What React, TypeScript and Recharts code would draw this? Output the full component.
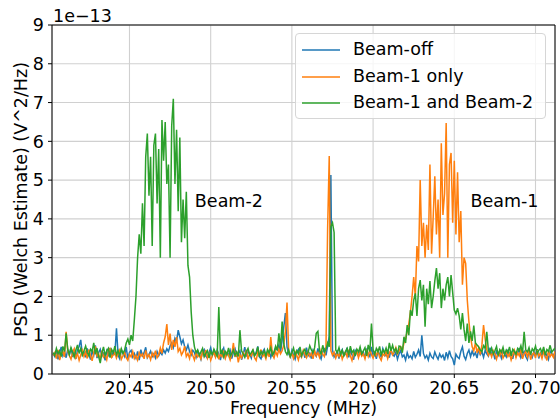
import { LineChart, Line, XAxis, YAxis, CartesianGrid, ReferenceLine, ReferenceDot } from 'recharts';

// frequency grid of the Welch estimate (MHz)
const FREQ_START = 20.403;
const FREQ_STEP = 0.001;
const X_MIN = 20.4023;
const X_MAX = 20.712;

const xTicks = [20.45, 20.5, 20.55, 20.6, 20.65, 20.7];
const yTicks = [0, 1, 2, 3, 4, 5, 6, 7, 8, 9];

const seriesNames = ['Beam-off', 'Beam-1 only', 'Beam-1 and Beam-2'];
const seriesColors = ['#1f77b4', '#ff7f0e', '#2ca02c'];

// PSD in units of 1e-15 V^2/Hz (axis shows 1e-13, so divide by 100)
const beamOff = [
  52, 45, 61, 38, 55, 70, 47, 58, 42, 63,
  50, 68, 44, 57, 39, 62, 71, 88, 49, 56,
  43, 66, 52, 37, 59, 48, 74, 41, 55, 64,
  46, 53, 35, 60, 49, 67, 42, 57, 51, 118,
  48, 39, 62, 54, 45, 70, 38, 56, 61, 44,
  53, 41, 58, 36, 63, 47, 55, 69, 42, 50,
  59, 45, 52, 41, 58, 47, 56, 50, 62, 54,
  65, 58, 72, 80, 68, 92, 84, 113, 96, 78,
  88, 70, 62, 75, 58, 49, 61, 55, 43, 60,
  52, 38, 57, 63, 46, 41, 55, 68, 48, 59,
  44, 62, 51, 36, 58, 67, 43, 54, 49, 61,
  40, 56, 65, 47, 53, 60, 37, 50, 69, 45,
  58, 52, 41, 63, 48, 55, 71, 44, 39, 57,
  64, 46, 52, 60, 43, 58, 50, 67, 62, 75,
  55, 88, 121, 157, 70, 52, 44, 61, 49, 38,
  56, 63, 45, 51, 59, 42, 68, 47, 54, 40,
  61, 53, 46, 66, 50, 39, 57, 64, 48, 72,
  98, 513, 62, 44, 51, 58, 40, 55, 63, 47,
  52, 68, 43, 59, 50, 37, 61, 54, 46, 65,
  49, 57, 41, 62, 53, 45, 70, 48, 56, 39,
  60, 51, 44, 66, 55, 47, 58, 42, 63, 50,
  46, 57, 38, 52, 61, 44, 49, 36, 55, 42,
  47, 39, 58, 43, 51, 62, 45, 100, 53, 41,
  48, 36, 54, 44, 40, 57, 46, 38, 52, 43,
  49, 35, 56, 42, 60, 45, 39, 23, 51, 44,
  40, 58, 70, 46, 37, 53, 62, 45, 59, 48,
  55, 41, 64, 50, 57, 43, 61, 52, 46, 68,
  49, 56, 38, 62, 47, 54, 41, 59, 51, 44,
  63, 48, 55, 39, 60, 46, 53, 67, 42, 50,
  58, 45, 37, 61, 52, 43, 57, 49, 64, 40,
  55, 47, 62, 44, 51, 38, 59, 53, 46, 57,
];

const beam1Only = [
  48, 55, 40, 62, 36, 51, 58, 44, 109, 60,
  47, 38, 56, 65, 42, 53, 35, 49, 61, 45,
  57, 40, 63, 48, 34, 55, 71, 46, 52, 39,
  60, 44, 50, 37, 58, 65, 43, 49, 55, 41,
  53, 62, 38, 47, 56, 42, 35, 51, 44, 58,
  40, 48, 36, 55, 46, 52, 39, 61, 43, 50,
  37, 54, 45, 60, 42, 49, 67, 53, 80, 96,
  129, 75, 104, 62, 88, 70, 95, 58, 66, 49,
  57, 72, 45, 53, 40, 61, 48, 36, 55, 44,
  50, 39, 58, 46, 62, 41, 53, 35, 47, 56,
  43, 60, 38, 51, 45, 57, 40, 54, 48, 36,
  52, 80, 44, 58, 30, 49, 41, 55, 46, 62,
  38, 53, 47, 60, 42, 35, 56, 48, 63, 45,
  51, 39, 57, 44, 95, 50, 41, 58, 47, 64,
  52, 60, 75, 110, 184, 62, 45, 53, 40, 57,
  48, 36, 55, 44, 61, 50, 42, 58, 46, 53,
  39, 60, 47, 55, 43, 62, 51, 45, 70, 376,
  562, 60, 48, 56, 41, 53, 45, 59, 38, 50,
  57, 44, 62, 47, 35, 54, 49, 60, 42, 56,
  46, 52, 39, 58, 45, 63, 50, 41, 55, 48,
  60, 43, 35, 52, 47, 58, 40, 54, 62, 49,
  56, 68, 52, 60, 70, 60, 80, 90, 110, 130,
  160, 200, 250, 200, 330, 290, 500, 330, 390, 300,
  385, 320, 540, 310, 405, 510, 360, 450, 300, 595,
  410, 465, 647, 300, 540, 570, 390, 550, 360, 520,
  340, 420, 230, 300, 285, 190, 135, 96, 70, 60,
  80, 55, 68, 50, 75, 126, 90, 62, 48, 57,
  44, 60, 52, 38, 55, 47, 63, 41, 50, 58,
  45, 53, 36, 49, 61, 42, 55, 47, 64, 39,
  52, 58, 44, 60, 37, 50, 55, 41, 62, 46,
  53, 40, 57, 48, 35, 60, 45, 52, 43, 58,
];

const beam1And2 = [
  55, 48, 66, 52, 60, 45, 71, 58, 105, 63,
  50, 68, 57, 44, 62, 75, 53, 66, 49, 60,
  72, 56, 47, 64, 58, 80, 51, 67, 45, 28,
  54, 70, 48, 59, 66, 42, 63, 55, 72, 50,
  60, 47, 65, 53, 62, 80, 90, 75, 100, 85,
  140, 200, 300, 360, 310, 440, 330, 560, 620, 460,
  560, 330, 590, 620, 440, 580, 300, 655, 550, 650,
  490, 540, 300, 640, 710, 490, 630, 420, 610, 340,
  450, 350, 470, 280, 250, 160, 100, 70, 55, 62,
  48, 57, 66, 45, 53, 60, 42, 58, 50, 64,
  55, 47, 173, 52, 61, 44, 58, 50, 67, 46,
  53, 62, 48, 57, 45, 113, 60, 52, 43, 58,
  66, 49, 55, 62, 47, 53, 70, 44, 58, 51,
  60, 46, 63, 54, 68, 49, 57, 72, 61, 105,
  66, 135, 78, 58, 50, 62, 45, 55, 67, 48,
  60, 52, 70, 47, 58, 64, 50, 56, 73, 62,
  55, 68, 105, 110, 60, 52, 74, 57, 63, 80,
  70, 380, 390, 365, 62, 55, 68, 50, 61, 47,
  58, 66, 49, 72, 55, 61, 46, 64, 57, 70,
  52, 60, 68, 47, 75, 58, 130, 63, 50, 66,
  57, 71, 48, 62, 55, 67, 52, 80, 60, 74,
  58, 66, 52, 72, 70, 55, 96, 80, 126, 100,
  165, 150, 190, 208, 150, 220, 242, 190, 230, 122,
  220, 180, 240, 170, 200, 240, 273, 220, 260, 170,
  220, 190, 230, 250, 200, 255, 210, 165, 155, 170,
  150, 115, 157, 115, 85, 130, 80, 110, 85, 125,
  80, 75, 70, 62, 58, 73, 66, 109, 60, 54,
  67, 52, 60, 71, 48, 63, 56, 69, 50, 62,
  55, 70, 47, 64, 58, 51, 66, 60, 73, 54,
  109, 62, 57, 68, 50, 65, 59, 72, 53, 61,
  66, 55, 70, 49, 63, 58, 74, 56, 62, 67,
];

const data = beamOff.map((v, i) => ({
  freq: FREQ_START + i * FREQ_STEP,
  off: v / 100,
  b1: beam1Only[i] / 100,
  b12: beam1And2[i] / 100,
}));

const FONT = 17.5;
const tickStyle = { fill: '#000', fontSize: FONT };

export default function App() {
  return (
    <div
      style={{
        position: 'fixed',
        left: 0,
        top: 0,
        width: 560,
        height: 419,
        background: '#fff',
        fontFamily: '"DejaVu Sans", sans-serif',
      }}
    >
      <LineChart width={560} height={419} data={data} margin={{ top: 25, right: 5, bottom: 0, left: 0 }}>
        <CartesianGrid stroke="#d0d0d0" strokeWidth={1.1} />
        <XAxis
          dataKey="freq"
          type="number"
          domain={[X_MIN, X_MAX]}
          allowDataOverflow
          ticks={xTicks}
          tickFormatter={(v: number) => v.toFixed(2)}
          height={45}
          tick={tickStyle}
          tickSize={4}
          tickMargin={4}
          tickLine={{ stroke: '#000' }}
          axisLine={{ stroke: '#000' }}
          label={{ value: 'Frequency (MHz)', position: 'insideBottom', offset: 5, fill: '#000', fontSize: FONT }}
        />
        <YAxis
          type="number"
          domain={[0, 9]}
          ticks={yTicks}
          width={52}
          tick={tickStyle}
          tickSize={4}
          tickMargin={4}
          tickLine={{ stroke: '#000' }}
          axisLine={{ stroke: '#000' }}
          label={{
            value: 'PSD (Welch Estimate) (V^2/Hz)',
            angle: -90,
            position: 'center',
            dx: -5,
            fill: '#000',
            fontSize: FONT,
          }}
        />
        <ReferenceLine y={9} stroke="#000" />
        <ReferenceLine x={X_MAX} stroke="#000" />
        <Line dataKey="off" stroke={seriesColors[0]} strokeWidth={1.5} dot={false} isAnimationActive={false} />
        <Line dataKey="b1" stroke={seriesColors[1]} strokeWidth={1.5} dot={false} isAnimationActive={false} />
        <Line dataKey="b12" stroke={seriesColors[2]} strokeWidth={1.5} dot={false} isAnimationActive={false} />
        <ReferenceDot
          x={20.5112}
          y={4.46}
          r={0}
          fill="none"
          stroke="none"
          label={{ value: 'Beam-2', position: 'center', fill: '#000', fontSize: FONT }}
        />
        <ReferenceDot
          x={20.6809}
          y={4.46}
          r={0}
          fill="none"
          stroke="none"
          label={{ value: 'Beam-1', position: 'center', fill: '#000', fontSize: FONT }}
        />
      </LineChart>

      {/* axis offset text, matplotlib style */}
      <div style={{ position: 'absolute', left: 53, top: 8, fontSize: FONT, lineHeight: 1 }}>1e−13</div>

      {/* legend box */}
      <div
        style={{
          position: 'absolute',
          left: 295,
          top: 33,
          width: 251,
          height: 86,
          boxSizing: 'border-box',
          border: '1px solid #d6d6d6',
          borderRadius: 4,
          background: 'rgba(255,255,255,0.8)',
        }}
      >
        {seriesNames.map((name, i) => (
          <div key={name} style={{ position: 'absolute', left: 0, top: 7 + i * 26.5, height: 20 }}>
            <svg width={50} height={20} style={{ position: 'absolute', left: 0, top: 0 }}>
              <line x1={6} x2={44} y1={9} y2={9} stroke={seriesColors[i]} strokeWidth={1.5} />
            </svg>
            <div style={{ position: 'absolute', left: 57, top: 0, fontSize: FONT, lineHeight: 1, whiteSpace: 'nowrap' }}>
              {name}
            </div>
          </div>
        ))}
      </div>
    </div>
  );
}
